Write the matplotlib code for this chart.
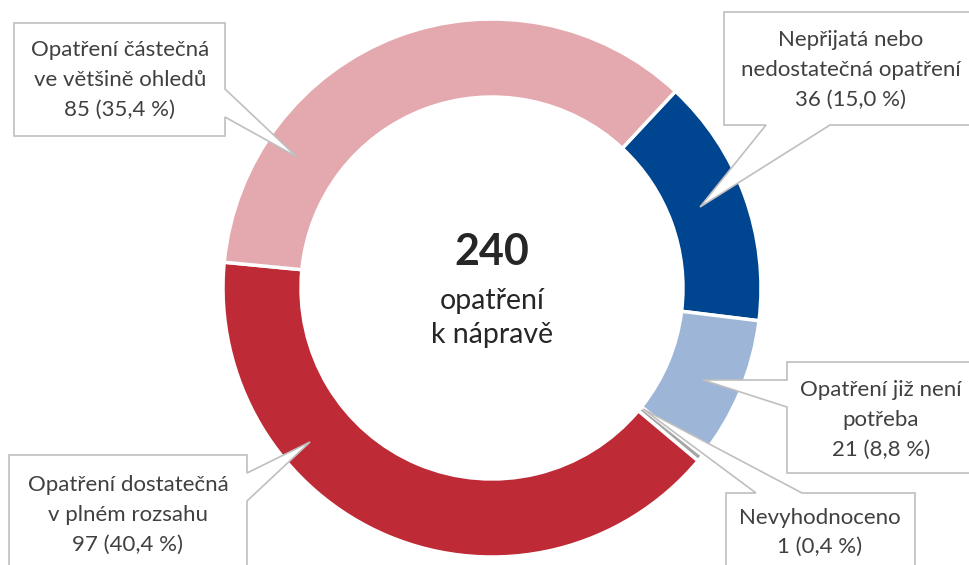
import matplotlib
matplotlib.use("Agg")
import matplotlib.pyplot as plt
from matplotlib.patches import Polygon

plt.rcParams['font.family'] = ['Lato', 'DejaVu Sans']

# data
labels = ["Nepřijatá nebo\nnedostatečná opatření",
          "Opatření již není\npotřeba",
          "Nevyhodnoceno",
          "Opatření dostatečná\nv plném rozsahu",
          "Opatření částečná\nve většině ohledů"]
counts = [36, 21, 1, 97, 85]
colors = ["#00458F", "#9DB5D6", "#A6A6A6", "#BE2A35", "#E4A9AE"]
total = sum(counts)

W, H = 969, 565
fig = plt.figure(figsize=(W / 100, H / 100), dpi=100)
ax = fig.add_axes([0, 0, 1, 1])

cx, cy, R = 492, H - 288, 269
ax.pie(counts, colors=colors, startangle=47, counterclock=False,
       radius=R, center=(cx, cy),
       wedgeprops=dict(width=78, edgecolor="white", linewidth=2.5))
ax.set_xlim(0, W)
ax.set_ylim(0, H)
ax.set_aspect("equal")
ax.axis("off")

txt = "#404040"
edge = "#BFBFBF"


def callout(box, side, base, tip):
    # box = (x0, y0, x1, y1) in image pixels (y downwards)
    x0, y0, x1, y1 = box
    tl, tr, br, bl = (x0, y0), (x1, y0), (x1, y1), (x0, y1)
    if side == "right":
        pts = [tl, tr, (x1, base[0]), tip, (x1, base[1]), br, bl]
    elif side == "left":
        pts = [tl, tr, br, bl, (x0, base[1]), tip, (x0, base[0])]
    elif side == "bottom":
        pts = [tl, tr, br, (base[1], y1), tip, (base[0], y1), bl]
    else:  # top
        pts = [tl, (base[0], y0), tip, (base[1], y0), tr, br, bl]
    pts = [(x, H - y) for x, y in pts]
    ax.add_patch(Polygon(pts, closed=True, facecolor="white",
                         edgecolor=edge, linewidth=1.2, zorder=5))


def label_lines(i, x, ys):
    pct = f"{100 * counts[i] / total:.1f}".replace(".", ",")
    lines = labels[i].split("\n") + [f"{counts[i]} ({pct} %)"]
    for line, y in zip(lines, ys):
        ax.text(x, H - y, line, ha="center", va="center", fontsize=16,
                color=txt, zorder=6)


# callouts
callout((14, 23, 225, 136), "right", (89, 117), (297, 157))
label_lines(4, 120, [50, 80, 110])

callout((724, 12, 985, 125), "bottom", (766, 830), (700, 207))
label_lines(0, 851, [40, 70, 100])

callout((787, 362, 985, 473), "left", (380, 407), (703, 380))
label_lines(1, 881, [390, 420, 450])

callout((726, 493, 915, 590), "top", (756, 802), (643, 409))
label_lines(2, 820, [518, 547])

callout((9, 455, 247, 590), "right", (473, 501), (310, 442))
label_lines(3, 128, [485, 515, 545])

# centre text
ax.text(cx, H - 252, str(total), ha="center", va="center", fontsize=31,
        fontweight="bold", color="#262626")
ax.text(cx, H - 301, "opatření", ha="center", va="center", fontsize=20.5,
        color="#262626")
ax.text(cx, H - 335, "k nápravě", ha="center", va="center", fontsize=20.5,
        color="#262626")

fig.savefig("out.png", dpi=100)
